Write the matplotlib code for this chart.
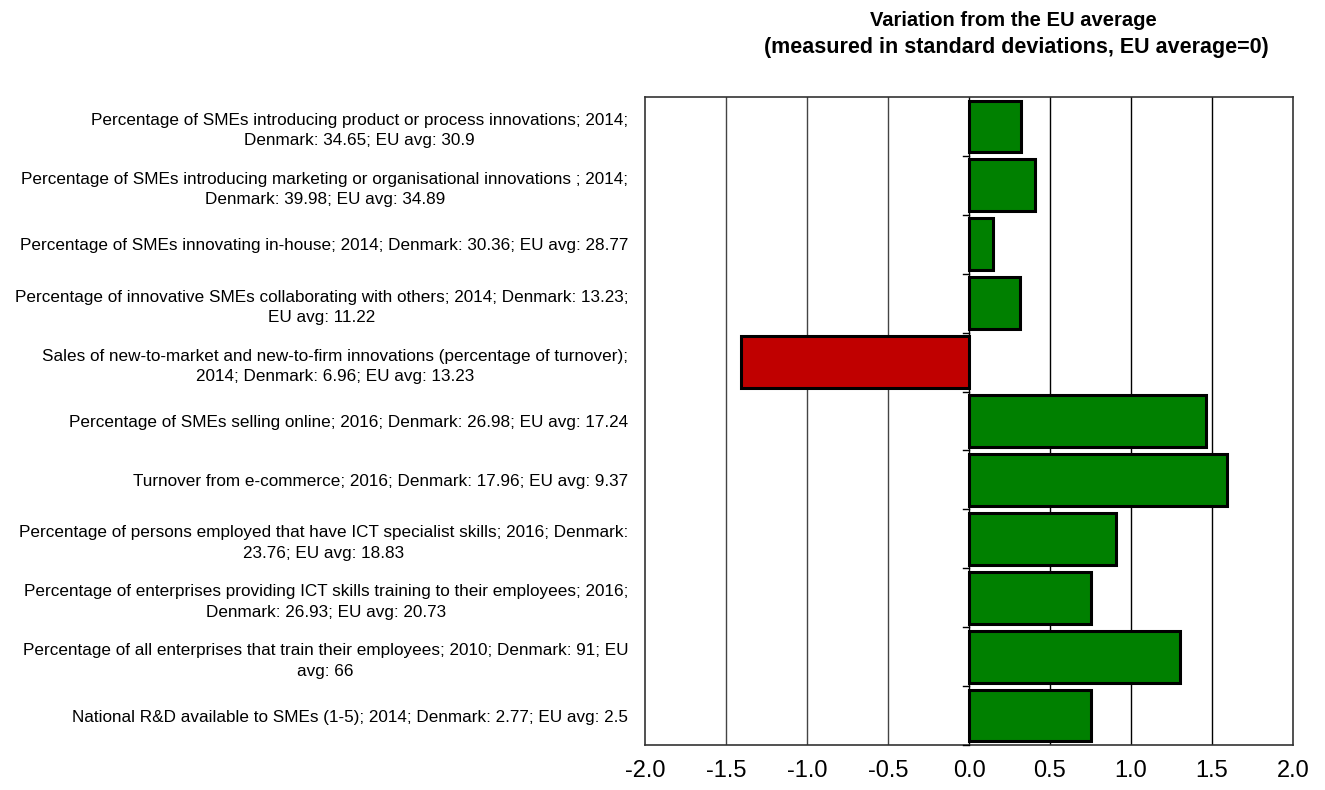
import matplotlib
matplotlib.use("Agg")
import matplotlib.pyplot as plt
from matplotlib import font_manager as fm

names = {f.name for f in fm.fontManager.ttflist}
fam = "Liberation Sans Narrow" if "Liberation Sans Narrow" in names else "Liberation Sans"
plt.rcParams['font.family'] = [fam, 'DejaVu Sans']

labels = [
    "Percentage of SMEs introducing product or process innovations; 2014;\nDenmark: 34.65; EU avg: 30.9",
    "Percentage of SMEs introducing marketing or organisational innovations ; 2014;\nDenmark: 39.98; EU avg: 34.89",
    "Percentage of SMEs innovating in-house; 2014; Denmark: 30.36; EU avg: 28.77",
    "Percentage of innovative SMEs collaborating with others; 2014; Denmark: 13.23;\nEU avg: 11.22",
    "Sales of new-to-market and new-to-firm innovations (percentage of turnover);\n2014; Denmark: 6.96; EU avg: 13.23",
    "Percentage of SMEs selling online; 2016; Denmark: 26.98; EU avg: 17.24",
    "Turnover from e-commerce; 2016; Denmark: 17.96; EU avg: 9.37",
    "Percentage of persons employed that have ICT specialist skills; 2016; Denmark:\n23.76; EU avg: 18.83",
    "Percentage of enterprises providing ICT skills training to their employees; 2016;\nDenmark: 26.93; EU avg: 20.73",
    "Percentage of all enterprises that train their employees; 2010; Denmark: 91; EU\navg: 66",
    "National R&D available to SMEs (1-5); 2014; Denmark: 2.77; EU avg: 2.5",
]
values = [0.32, 0.41, 0.15, 0.315, -1.41, 1.46, 1.59, 0.905, 0.755, 1.30, 0.75]
xticks = [-2.0, -1.5, -1.0, -0.5, 0.0, 0.5, 1.0, 1.5, 2.0]

fig = plt.figure(figsize=(13.25, 7.9), dpi=100)
ax = fig.add_axes([645/1325, 1-745/790, (1293-645)/1325, (745-97)/790])

n = len(values)
ypos = list(range(n))
colors = ["#008000" if v >= 0 else "#C00000" for v in values]
ax.barh(ypos, values, height=0.88, color=colors, edgecolor="black", linewidth=2.2, zorder=3)

ax.set_xlim(-2, 2)
ax.set_ylim(n - 0.5, -0.5)
ax.set_xticks(xticks)
ax.set_xticklabels([f"{t:.1f}" for t in xticks], fontsize=17)
ax.tick_params(axis='x', length=0, pad=11)
for t in xticks[1:-1]:
    ax.axvline(t, color="#444444" if t < 0 else "black", linewidth=1.0, zorder=1)

# category boundary ticks on zero axis
for i in range(1, n + 1):
    ax.plot([-0.04, 0], [i - 0.5, i - 0.5], color="black", linewidth=1.0, zorder=4, clip_on=False)

ax.set_yticks(ypos)
ax.set_yticklabels(labels, fontsize=12.3, multialignment='center', linespacing=1.45)
ax.tick_params(axis='y', length=0, pad=12)
for s in ax.spines.values():
    s.set_color("#333333")
    s.set_linewidth(1.2)

fig.text(1013/1325, 1-21/790, "Variation from the EU average", ha='center', va='center',
         fontsize=14.5, fontweight='bold')
fig.text(1016/1325, 1-48/790, "(measured in standard deviations, EU average=0)", ha='center',
         va='center', fontsize=15.5, fontweight='bold')

fig.savefig("out.png", dpi=100)
